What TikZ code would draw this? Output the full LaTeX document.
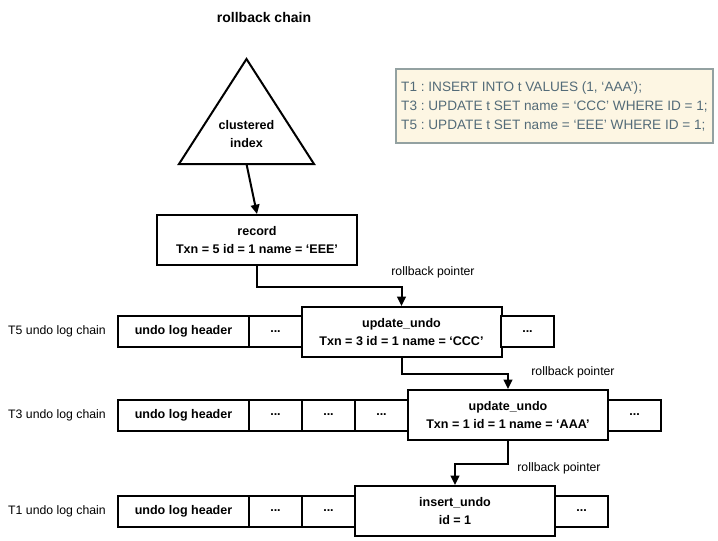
\documentclass[tikz,border=0pt]{standalone}
\usepackage{fontspec}
\setmainfont{Liberation Sans}
\usetikzlibrary{arrows.meta}

\definecolor{sqlfill}{HTML}{FDF6E3}
\definecolor{sqlline}{HTML}{93A1A1}
\definecolor{sqltext}{HTML}{536B78}

\begin{document}
\begin{tikzpicture}[x=0.75pt, y=-0.75pt,
  box/.style={draw, line width=1.5pt, fill=white, inner sep=0pt, align=center,
    font=\fontsize{9.4}{13.5}\selectfont\bfseries},
  cell/.style={box, minimum height=\rowh},
  bigbox/.style={box, minimum height=\bigh, minimum width=\bigw},
  ptr/.style={-{Triangle[length=7pt,width=6.5pt]}, line width=1.5pt},
  lbl/.style={font=\fontsize{9.2}{11}\selectfont},
  sql/.style={draw=sqlline, fill=sqlfill, text=sqltext, line width=0.9pt, align=left,
    inner xsep=3pt, minimum width=237.75pt, minimum height=55.5pt,
    font=\fontsize{10.2}{14.25}\selectfont\frenchspacing}]

  % Define parameters
  \def\rowh{23.25pt}  % height of a log chain row
  \def\bigh{37.5pt}   % height of record and undo boxes
  \def\bigw{150pt}    % width of record and undo boxes
  \def\headw{98.25pt} % width of the header cell
  \def\dotw{39.75pt}  % width of a ... cell

  \useasboundingbox (0,0) rectangle (718,540);

  % Draw the title
  \node[font=\fontsize{10.5}{12}\selectfont\bfseries] (title) at (264,17) {rollback chain};

  % Draw the clustered index
  \draw[line width=1.5pt, fill=white] (246.5,59) -- (179,164) -- (314,164) -- cycle;
  \node[box, draw=none, fill=none] (idx) at (246.5,134) {clustered\\index};
  \coordinate (idxbase) at (246.5,164);

  % Draw the statements
  \node[sql] (stmts) at (554.5,106) {T1 : INSERT INTO t VALUES (1, ‘AAA’);\\
    T3 : UPDATE t SET name = ‘CCC’ WHERE ID = 1;\\
    T5 : UPDATE t SET name = ‘EEE’ WHERE ID = 1;};

  % Draw the record
  \node[bigbox] (record) at (257,240) {record\\Txn = 5 id = 1 name = ‘EEE’};

  % T5 undo log chain
  \node[lbl] (chainv) at (57,331.5) {T5 undo log chain};
  \node[cell, minimum width=\headw] (headv) at (183.5,331.5) {undo log header};
  \node[cell, minimum width=\dotw] (dotsva) at (275.5,331.5) {...};
  \node[bigbox] (updv) at (401.5,332) {update\_undo\\Txn = 3 id = 1 name = ‘CCC’};
  \node[cell, minimum width=\dotw] (dotsvb) at (527.5,331.5) {...};

  % T3 undo log chain
  \node[lbl] (chainiii) at (57,415) {T3 undo log chain};
  \node[cell, minimum width=\headw] (headiii) at (183.5,415) {undo log header};
  \node[cell, minimum width=\dotw] (dotsiiia) at (275.5,415) {...};
  \node[cell, minimum width=\dotw] (dotsiiib) at (328.5,415) {...};
  \node[cell, minimum width=\dotw] (dotsiiic) at (381.5,415) {...};
  \node[bigbox] (updiii) at (508,415) {update\_undo\\Txn = 1 id = 1 name = ‘AAA’};
  \node[cell, minimum width=\dotw] (dotsiiid) at (634.5,415) {...};

  % T1 undo log chain
  \node[lbl] (chaini) at (57,511) {T1 undo log chain};
  \node[cell, minimum width=\headw] (headi) at (183.5,511) {undo log header};
  \node[cell, minimum width=\dotw] (dotsia) at (275.5,511) {...};
  \node[cell, minimum width=\dotw] (dotsib) at (328.5,511) {...};
  \node[bigbox] (insi) at (455,511) {insert\_undo\\id = 1};
  \node[cell, minimum width=\dotw] (dotsic) at (581.5,511) {...};

  % Draw the rollback pointers
  \draw[ptr] (idxbase) -- (record.north);
  \draw[ptr] (record.south) -- ++(0,21) -| (updv.north);
  \draw[ptr] (updv.south) -- ++(0,16) -| (updiii.north);
  \draw[ptr] (updiii.south) -- ++(0,23) -| (insi.north);

  % Add pointer labels
  \node[lbl] (ptrv) at (433,272) {rollback pointer};
  \node[lbl] (ptriii) at (573,372) {rollback pointer};
  \node[lbl] (ptri) at (559,468) {rollback pointer};

\end{tikzpicture}
\end{document}
